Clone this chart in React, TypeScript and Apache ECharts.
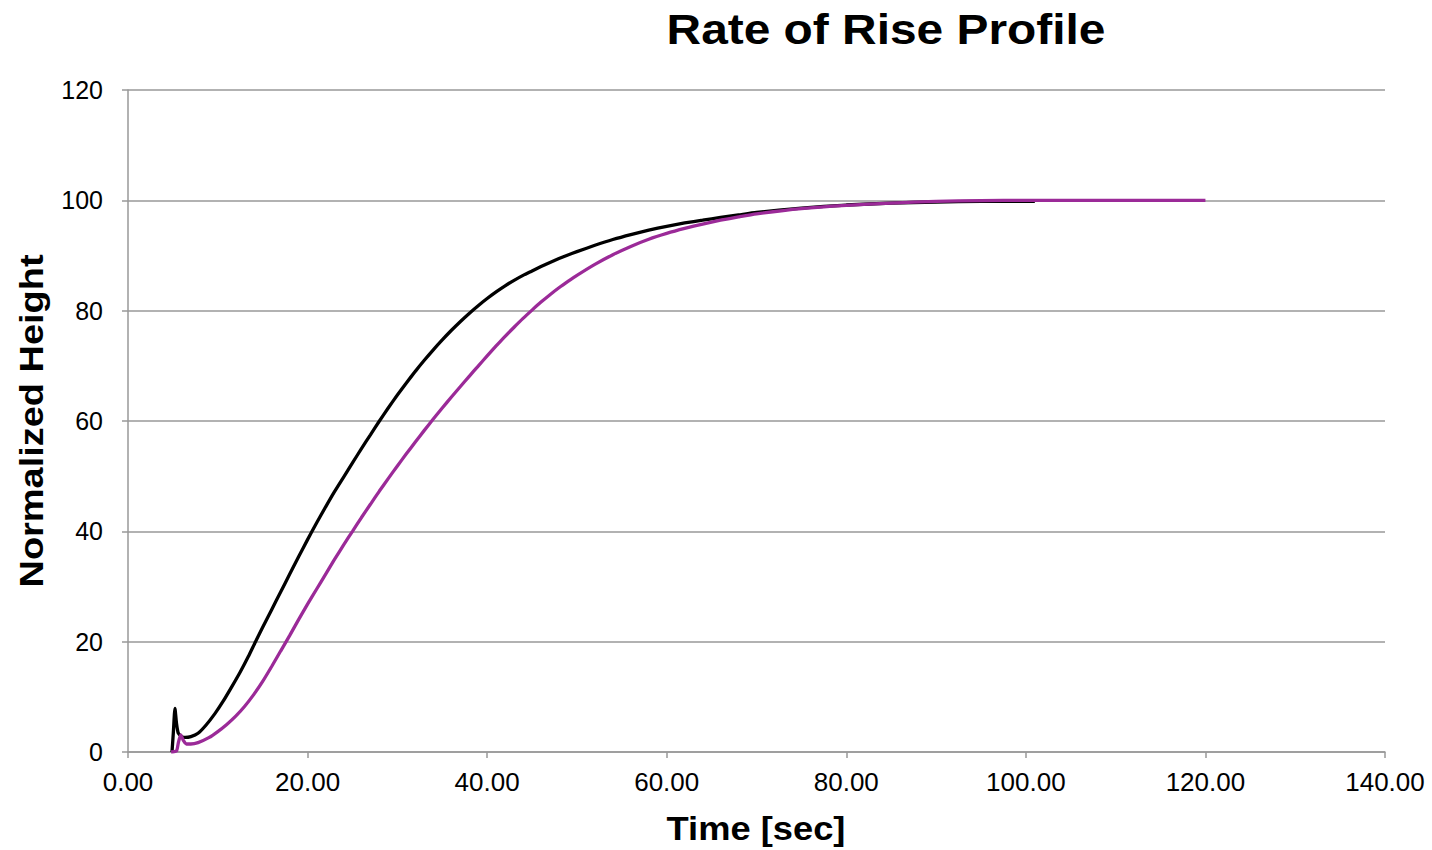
import React, { useEffect, useRef } from "react";
import * as echarts from "echarts";

const titleText = "Rate of Rise Profile";
const xAxisName = "Time [sec]";
const yAxisName = "Normalized Height";

const blackTime = [4.9, 5.05, 5.23, 5.4, 5.6, 6.0, 6.35, 7.0, 7.8, 8.7, 9.7, 10.6, 11.55, 12.5, 13.4, 14.2, 15, 16, 17, 18, 19, 20, 21, 22, 23, 24, 25, 26, 27, 28, 29, 30, 31, 32, 33, 34, 35, 36, 37, 38, 39, 40, 41, 42, 43, 44, 45, 46, 47, 48, 49, 50, 52, 54, 56, 58, 60, 62, 64, 66, 68, 70, 75, 80, 85, 90, 95, 101];
const blackValue = [0, 3.5, 7.9, 5.2, 3.4, 2.8, 2.66, 2.8, 3.4, 4.9, 7.0, 9.2, 11.8, 14.5, 17.3, 20, 22.6, 25.8, 29.0, 32.2, 35.4, 38.5, 41.5, 44.4, 47.2, 49.8, 52.4, 55.0, 57.5, 60.0, 62.4, 64.7, 66.9, 69.0, 71.0, 72.9, 74.7, 76.4, 78.0, 79.5, 80.9, 82.2, 83.4, 84.5, 85.5, 86.4, 87.2, 88.0, 88.75, 89.45, 90.1, 90.7, 91.85, 92.9, 93.8, 94.6, 95.3, 95.9, 96.4, 96.9, 97.35, 97.8, 98.6, 99.15, 99.5, 99.7, 99.8, 99.8];

const purpleTime = [4.8, 5.4, 5.6, 5.87, 6.2, 6.5, 7.0, 7.8, 9, 10, 11, 12, 13, 14, 15, 16, 17, 18, 19, 20, 21, 22, 23, 24, 25, 26, 27, 28, 29, 30, 31, 32, 33, 34, 35, 36, 37, 38, 39, 40, 41, 42, 43, 44, 45, 46, 47, 48, 49, 50, 52, 54, 56, 58, 60, 62, 64, 66, 68, 70, 75, 80, 85, 90, 95, 100, 110, 120];
const purpleValue = [0, 0.2, 1.6, 3.1, 2.0, 1.45, 1.45, 1.7, 2.6, 3.7, 5.0, 6.5, 8.3, 10.4, 12.8, 15.5, 18.3, 21.1, 24.0, 26.8, 29.5, 32.2, 34.9, 37.5, 40.0, 42.5, 44.9, 47.3, 49.6, 51.85, 54.05, 56.2, 58.3, 60.35, 62.35, 64.3, 66.2, 68.1, 69.95, 71.8, 73.6, 75.35, 77.0, 78.6, 80.1, 81.55, 82.9, 84.15, 85.3, 86.4, 88.4, 90.15, 91.65, 92.95, 94.0, 94.9, 95.7, 96.4, 97.0, 97.55, 98.5, 99.1, 99.5, 99.8, 99.95, 100, 100, 100];

const FONT = "'Liberation Sans', Arial, sans-serif";

export default function App() {
  const ref = useRef<HTMLDivElement>(null);
  useEffect(() => {
    if (!ref.current) return;
    const chart = echarts.init(ref.current, undefined, { renderer: "svg" });
    chart.setOption({
      animation: false,
      backgroundColor: "#ffffff",
      graphic: [
        {
          type: "text",
          x: 886,
          y: 30,
          scaleX: 1.14,
          style: {
            text: titleText,
            font: `bold 42px ${FONT}`,
            fill: "#000",
            textAlign: "center",
            textVerticalAlign: "middle",
          },
        },
        {
          type: "text",
          x: 756,
          y: 829,
          scaleX: 1.1,
          style: {
            text: xAxisName,
            font: `bold 33px ${FONT}`,
            fill: "#000",
            textAlign: "center",
            textVerticalAlign: "middle",
          },
        },
        {
          type: "text",
          x: 31.5,
          y: 421,
          rotation: Math.PI / 2,
          scaleX: 1.15,
          style: {
            text: yAxisName,
            font: `bold 33px ${FONT}`,
            fill: "#000",
            textAlign: "center",
            textVerticalAlign: "middle",
          },
        },
      ],
      grid: { left: 128, right: 47, top: 90, bottom: 98, containLabel: false },
      xAxis: {
        type: "value",
        min: 0,
        max: 140,
        interval: 20,
        axisLine: { show: true, lineStyle: { color: "#999", width: 1.5 } },
        axisTick: { show: true, length: 6, lineStyle: { color: "#999", width: 1.5 } },
        axisLabel: {
          fontFamily: FONT,
          fontSize: 26,
          color: "#000",
          margin: 17,
          formatter: (v: number) => v.toFixed(2),
        },
        splitLine: { show: false },
      },
      yAxis: {
        type: "value",
        min: 0,
        max: 120,
        interval: 20,
        axisLine: { show: true, lineStyle: { color: "#999", width: 1.5 } },
        axisTick: { show: true, length: 6, lineStyle: { color: "#999", width: 1.5 } },
        axisLabel: { fontFamily: FONT, fontSize: 25, color: "#000", margin: 25 },
        splitLine: { show: true, lineStyle: { color: "#999", width: 1.5 } },
      },
      series: [
        {
          type: "line",
          data: blackTime.map((t, i) => [t, blackValue[i]]),
          showSymbol: false,
          smooth: 0.2,
          lineStyle: { color: "#000000", width: 3.3 },
          itemStyle: { color: "#000000" },
          z: 2,
        },
        {
          type: "line",
          data: purpleTime.map((t, i) => [t, purpleValue[i]]),
          showSymbol: false,
          smooth: 0.2,
          lineStyle: { color: "#9b2a98", width: 3.3 },
          itemStyle: { color: "#9b2a98" },
          z: 3,
        },
      ],
    });
    return () => chart.dispose();
  }, []);
  return <div ref={ref} style={{ width: 1432, height: 850, position: "absolute", left: 0, top: 0 }} />;
}
